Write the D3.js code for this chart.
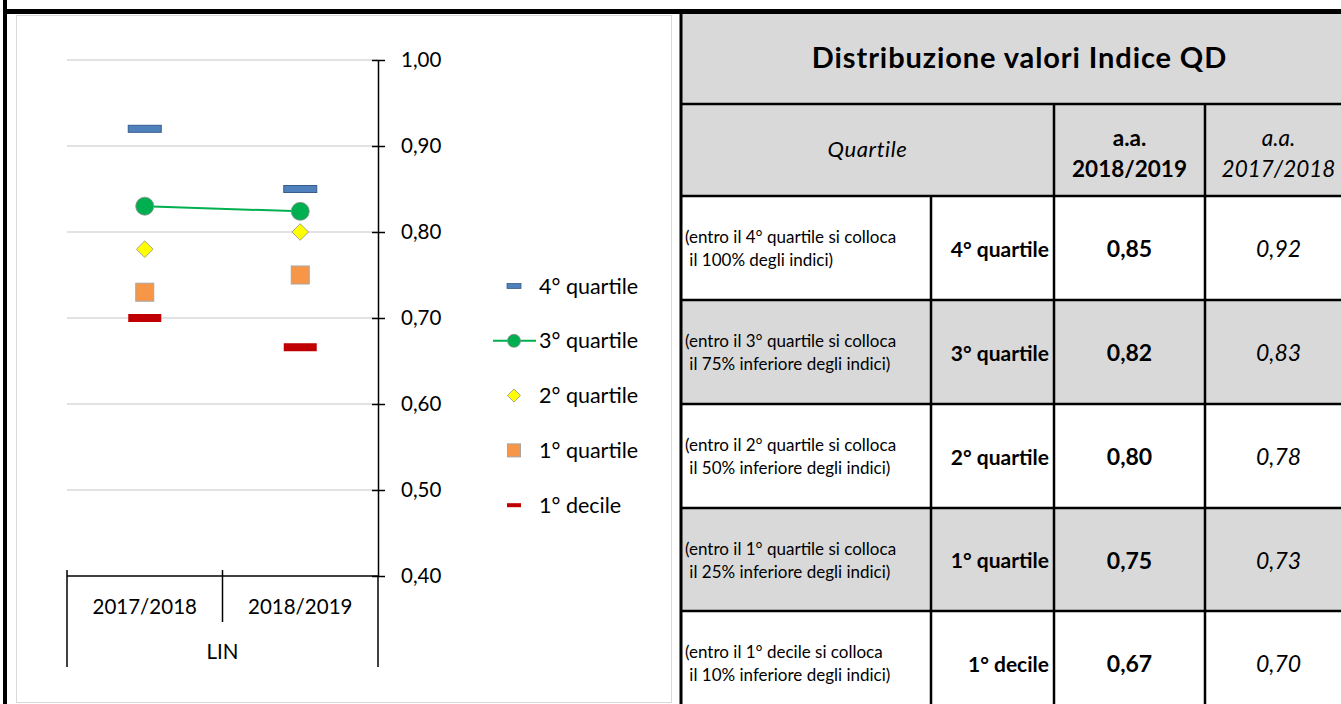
<!DOCTYPE html>
<html><head><meta charset="utf-8">
<script src="https://cdn.jsdelivr.net/npm/d3@7"></script>
<style>html,body{margin:0;padding:0;background:#fff;overflow:hidden} svg{display:block;font-family:Lato, sans-serif}</style>
</head><body><svg id="c" width="1341" height="704"></svg>
<script>
// ---- data ----
const categories = ["2017/2018", "2018/2019"];
const groupLabel = "LIN";
const seriesNames = ["4° quartile", "3° quartile", "2° quartile", "1° quartile", "1° decile"];
const q4 = [0.92, 0.85];
const q3 = [0.83, 0.824];
const q2 = [0.78, 0.80];
const q1 = [0.73, 0.75];
const d1 = [0.70, 0.666];
const yTicks = [0.40, 0.50, 0.60, 0.70, 0.80, 0.90, 1.00];
const tableTitle = "Distribuzione valori Indice QD";
const headerLabel = "Quartile";
const headerCurr = ["a.a.", "2018/2019"];
const headerPrev = ["a.a.", "2017/2018"];
const descriptions = [
  ["(entro il 4° quartile si colloca", " il 100% degli indici)"],
  ["(entro il 3° quartile si colloca", " il 75% inferiore degli indici)"],
  ["(entro il 2° quartile si colloca", " il 50% inferiore degli indici)"],
  ["(entro il 1° quartile si colloca", " il 25% inferiore degli indici)"],
  ["(entro il 1° decile si colloca", " il 10% inferiore degli indici)"]
];
const seriesValues = [q4, q3, q2, q1, d1];

// ---- setup ----
const svg = d3.select("#c");
const fmt = v => d3.format(".2f")(v).replace(".", ",");
const GRAY = "#D9D9D9";

// outer black frame
svg.append("rect").attr("x", 3).attr("y", 0).attr("width", 4).attr("height", 704).attr("fill", "#000");
svg.append("rect").attr("x", 3).attr("y", 9).attr("width", 1338).attr("height", 5).attr("fill", "#000");
// chart area box
svg.append("rect").attr("x", 16.5).attr("y", 15.5).attr("width", 655).attr("height", 687)
  .attr("fill", "#fff").attr("stroke", GRAY).attr("stroke-width", 1);

// ---- scales ----
const y = d3.scaleLinear().domain([0.4, 1.0]).range([576, 60]);
const x = d3.scaleBand().domain(categories).range([67, 378]);
const cx = c => x(c) + x.bandwidth() / 2;

// gridlines
svg.append("g").selectAll("line").data(yTicks.filter(t => t > 0.4)).join("line")
  .attr("x1", 67).attr("x2", 378).attr("y1", d => y(d)).attr("y2", d => y(d))
  .attr("stroke", GRAY).attr("stroke-width", 1.5);

// y axis (right)
const ya = svg.append("g").attr("transform", "translate(378,0)")
  .call(d3.axisRight(y).tickValues(yTicks).tickSize(7).tickSizeOuter(0).tickPadding(16).tickFormat(fmt));
ya.select(".domain").attr("stroke", "#000").attr("stroke-width", 1.5);
ya.selectAll(".tick line").attr("x1", -6).attr("stroke", "#000").attr("stroke-width", 1.5);
ya.selectAll(".tick text").attr("font-size", 20.5).attr("fill", "#000").attr("font-family", "Lato");

// x axis
const x0 = x.range()[0], x1 = x.range()[1];
svg.append("line").attr("x1", x0).attr("x2", x1).attr("y1", y(0.4)).attr("y2", y(0.4))
  .attr("stroke", "#000").attr("stroke-width", 1.5);
const bounds = [x(categories[0]), x(categories[1]), x1];
svg.append("g").selectAll("line").data(bounds).join("line")
  .attr("x1", d => d).attr("x2", d => d)
  .attr("y1", (d, i) => i === 2 ? y(0.4) : y(0.4) - 6)
  .attr("y2", (d, i) => i === 1 ? y(0.4) + 46 : y(0.4) + 91)
  .attr("stroke", "#000").attr("stroke-width", 1.5);
svg.append("g").selectAll("text").data(categories).join("text")
  .attr("x", d => cx(d)).attr("y", 614).attr("text-anchor", "middle")
  .attr("font-size", 20.5).text(d => d);
svg.append("text").attr("x", (x0 + x1) / 2).attr("y", 659).attr("text-anchor", "middle")
  .attr("font-size", 20.5).text(groupLabel);

// ---- marks ----
const diamond = (r) => `M0,${-r}L${r},0L0,${r}L${-r},0Z`;
// 4° quartile dashes
svg.append("g").selectAll("rect").data(categories).join("rect")
  .attr("x", d => cx(d) - 16.5).attr("y", (d, i) => y(q4[i]) - 3.5)
  .attr("width", 33).attr("height", 7).attr("fill", "#4F81BD").attr("stroke", "#385D8A").attr("stroke-width", 1);
// 1° decile dashes
svg.append("g").selectAll("rect").data(categories).join("rect")
  .attr("x", d => cx(d) - 16.5).attr("y", (d, i) => y(d1[i]) - 4)
  .attr("width", 33).attr("height", 8).attr("fill", "#C00000");
// 3° quartile line + circles
svg.append("path").datum(categories)
  .attr("d", d3.line().x(d => cx(d)).y((d, i) => y(q3[i])))
  .attr("fill", "none").attr("stroke", "#00B050").attr("stroke-width", 2);
svg.append("g").selectAll("circle").data(categories).join("circle")
  .attr("cx", d => cx(d)).attr("cy", (d, i) => y(q3[i])).attr("r", 9)
  .attr("fill", "#00B050").attr("stroke", "#8C8C8C").attr("stroke-width", 0.8);
// 2° quartile diamonds
svg.append("g").selectAll("path").data(categories).join("path")
  .attr("transform", (d, i) => `translate(${cx(d)},${y(q2[i])})`).attr("d", diamond(8.3))
  .attr("fill", "#FFFF00").attr("stroke", "#8C8C8C").attr("stroke-width", 0.8);
// 1° quartile squares
svg.append("g").selectAll("rect").data(categories).join("rect")
  .attr("x", d => cx(d) - 9).attr("y", (d, i) => y(q1[i]) - 9).attr("width", 18).attr("height", 18)
  .attr("fill", "#F79646").attr("stroke", "#A5A5A5").attr("stroke-width", 1);

// ---- legend ----
const lg = svg.append("g");
const lx = 514, ly0 = 286, lstep = 54.8;
seriesNames.forEach((name, i) => {
  const yy = ly0 + i * lstep;
  if (i === 0) lg.append("rect").attr("x", lx - 7).attr("y", yy - 2.5).attr("width", 14).attr("height", 5)
    .attr("fill", "#4F81BD").attr("stroke", "#385D8A").attr("stroke-width", 0.8);
  if (i === 1) {
    lg.append("line").attr("x1", 493).attr("x2", 536).attr("y1", yy).attr("y2", yy).attr("stroke", "#00B050").attr("stroke-width", 2);
    lg.append("circle").attr("cx", lx).attr("cy", yy).attr("r", 6.5).attr("fill", "#00B050").attr("stroke", "#8C8C8C").attr("stroke-width", 0.8);
  }
  if (i === 2) lg.append("path").attr("transform", `translate(${lx},${yy})`).attr("d", diamond(6.5))
    .attr("fill", "#FFFF00").attr("stroke", "#8C8C8C").attr("stroke-width", 0.8);
  if (i === 3) lg.append("rect").attr("x", lx - 6.5).attr("y", yy - 6.5).attr("width", 13).attr("height", 13)
    .attr("fill", "#F79646").attr("stroke", "#A5A5A5").attr("stroke-width", 1);
  if (i === 4) lg.append("rect").attr("x", lx - 7).attr("y", yy - 2).attr("width", 14).attr("height", 4).attr("fill", "#C00000");
  lg.append("text").attr("x", 539).attr("y", yy + 7.5).attr("font-size", 21.5).text(name);
});

// ---- table ----
const cols = [681, 931, 1054, 1205, 1352];
const rows = [14, 104, 196, 300, 404, 508, 611, 715];
const tg = svg.append("g");
// backgrounds
tg.append("rect").attr("x", cols[0]).attr("y", rows[0]).attr("width", cols[4] - cols[0]).attr("height", rows[2] - rows[0]).attr("fill", GRAY);
seriesNames.forEach((n, i) => {
  if (i % 2 === 1) tg.append("rect").attr("x", cols[0]).attr("y", rows[i + 2]).attr("width", cols[4] - cols[0])
    .attr("height", rows[i + 3] - rows[i + 2]).attr("fill", GRAY);
});
// borders
rows.slice(1).forEach(r => tg.append("line").attr("x1", cols[0]).attr("x2", cols[4]).attr("y1", r).attr("y2", r)
  .attr("stroke", "#000").attr("stroke-width", 2.5));
tg.append("line").attr("x1", cols[0]).attr("x2", cols[0]).attr("y1", rows[0]).attr("y2", 715).attr("stroke", "#000").attr("stroke-width", 3);
[cols[2], cols[3]].forEach(c => tg.append("line").attr("x1", c).attr("x2", c).attr("y1", rows[1]).attr("y2", 715).attr("stroke", "#000").attr("stroke-width", 2.5));
tg.append("line").attr("x1", cols[1]).attr("x2", cols[1]).attr("y1", rows[2]).attr("y2", 715).attr("stroke", "#000").attr("stroke-width", 2.5);

// title
tg.append("text").attr("x", (cols[0] + cols[4]) / 2 + 3).attr("y", 68).attr("text-anchor", "middle")
  .attr("font-size", 29).attr("letter-spacing", 0.9).attr("font-weight", "bold").text(tableTitle);
// header
tg.append("text").attr("x", (cols[0] + cols[2]) / 2).attr("y", 157).attr("text-anchor", "middle")
  .attr("font-size", 22).attr("letter-spacing", 0.6).attr("font-style", "italic").text(headerLabel);
headerCurr.forEach((t, i) => tg.append("text").attr("x", (cols[2] + cols[3]) / 2).attr("y", 146 + i * 31)
  .attr("text-anchor", "middle").attr("font-size", 22.5).attr("font-weight", "bold").text(t));
headerPrev.forEach((t, i) => tg.append("text").attr("x", (cols[3] + cols[4]) / 2).attr("y", 146 + i * 31)
  .attr("text-anchor", "middle").attr("font-size", 22.5).attr("font-style", "italic").text(t));
// data rows
seriesNames.forEach((name, i) => {
  const top = rows[i + 2], bot = rows[i + 3];
  const mid = i === 4 ? 663 : (top + bot) / 2;
  descriptions[i].forEach((t, j) => tg.append("text").attr("x", 685).attr("y", mid - 5 + j * 23)
    .attr("font-size", 17).attr("xml:space", "preserve").style("white-space", "pre").text(t));
  tg.append("text").attr("x", cols[2] - 5).attr("y", mid + 8.5).attr("text-anchor", "end")
    .attr("font-size", 21).attr("font-weight", "bold").text(name);
  tg.append("text").attr("x", (cols[2] + cols[3]) / 2).attr("y", mid + 9).attr("text-anchor", "middle")
    .attr("font-size", 23).attr("font-weight", "bold").text(fmt(seriesValues[i][1]));
  tg.append("text").attr("x", (cols[3] + cols[4]) / 2).attr("y", mid + 9).attr("text-anchor", "middle")
    .attr("font-size", 23).attr("font-style", "italic").text(fmt(seriesValues[i][0]));
});
</script></body></html>
